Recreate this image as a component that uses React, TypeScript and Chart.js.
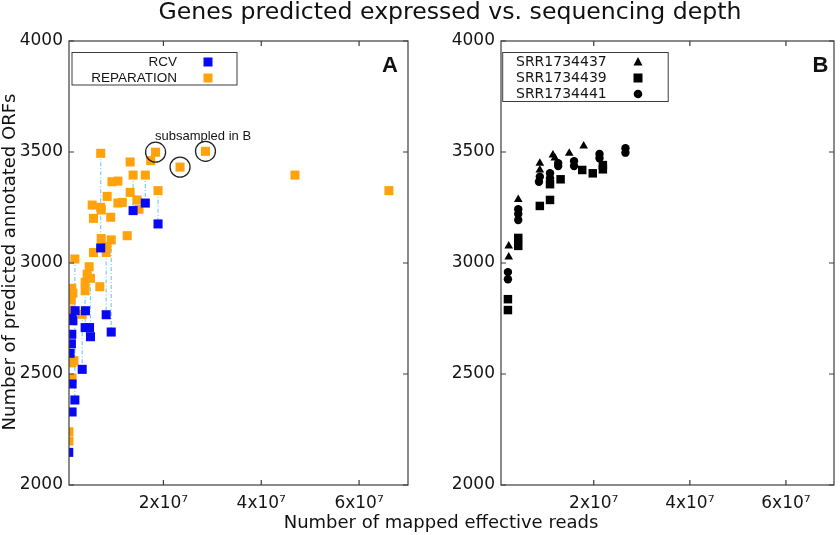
import React, { useEffect, useRef } from "react";
import { Chart, registerables } from "chart.js";

Chart.register(...registerables);

const M = 1e6;

// ---------- Panel A (x values in millions of reads) ----------
const repX = [7.18, 13.2, 17.4, 18.4, 23.4, 28.6, 13.8, 16.3, 9.48, 10.7, 13.2, 18.9, 8.5, 5.44, 7.18, 7.3, 10.7, 11.6, 14.6, 15.0, 5.7, 9.23, 12.6, 7.28, 9.33, 8.45, 8.3, 5.7, 1.9, 4.82, 4.41, 5.09, 4.0, 7.0, 4.0, 1.27, 1.5, 1.15, 0.92, 3.4, 1.7, 1.27, 1.33, 0.68, 0.68, 46.9, 66.1];
const repY = [3494, 3455, 3461, 3499, 3432, 3503, 3396, 3396, 3366, 3369, 3318, 3326, 3300, 3261, 3251, 3239, 3270, 3273, 3284, 3242, 3201, 3206, 3123, 3110, 3104, 3074, 3047, 3047, 3018, 2983, 2949, 2931, 2913, 2893, 2875, 2886, 2864, 2833, 2788, 2769, 2560, 2550, 2481, 2240, 2198, 3396, 3326];

const rcvX = [13.8, 16.3, 18.9, 7.18, 1.95, 4.06, 8.3, 1.33, 1.5, 4.0, 4.9, 9.33, 5.09, 1.27, 1.19, 0.92, 3.4, 1.33, 1.9, 1.33, 0.65];
const rcvY = [3236, 3270, 3176, 3068, 2785, 2785, 2767, 2751, 2740, 2709, 2709, 2689, 2668, 2679, 2636, 2593, 2521, 2455, 2383, 2329, 2147];

const linkX = [7.18, 13.8, 16.3, 18.9, 9.33, 8.3, 5.09, 4.0, 3.4, 1.9];
const linkTop = [3494, 3396, 3396, 3326, 3104, 3047, 2931, 2875, 2769, 3018];
const linkBottom = [3068, 3236, 3270, 3176, 2689, 2767, 2668, 2709, 2521, 2383];

const circledX = [18.4, 23.4, 28.6];
const circledY = [3499, 3432, 3503];
const noteX = 28.1;
const noteY = 3568;
const noteText = "subsampled in B";

// ---------- Panel B ----------
const s437X = [2.31, 2.31, 4.29, 8.78, 8.78, 11.5, 11.9, 14.9, 17.9];
const s437Y = [3077, 3027, 3286, 3449, 3419, 3486, 3473, 3494, 3527];
const s439X = [2.14, 2.14, 4.29, 4.29, 8.78, 10.9, 10.9, 13.1, 17.6, 19.8, 21.9, 21.9];
const s439Y = [2837, 2788, 3113, 3077, 3257, 3284, 3355, 3377, 3419, 3404, 3441, 3422];
const s441X = [2.14, 2.14, 4.29, 4.29, 4.29, 8.78, 8.6, 10.9, 10.9, 12.6, 12.6, 15.9, 15.9, 21.2, 21.2, 26.6, 26.6];
const s441Y = [2959, 2927, 3242, 3221, 3194, 3389, 3366, 3404, 3382, 3450, 3437, 3459, 3437, 3491, 3472, 3517, 3497];

// ---------- Axes ----------
const xMin = 0.7e6;
const xMax = 7e7;
const yMin = 2000;
const yMax = 4000;
const xTickValues = [2e7, 4e7, 6e7];
const xTickLabels = ["2x10\u2077", "4x10\u2077", "6x10\u2077"];
const yTickValues = [2000, 2500, 3000, 3500, 4000];
const yTickLabels = ["2000", "2500", "3000", "3500", "4000"];

const TITLE = "Genes predicted expressed vs. sequencing depth";
const X_TITLE = "Number of mapped effective reads";
const Y_TITLE = "Number of predicted annotated ORFs";
const legendA = ["RCV", "REPARATION"];
const legendB = ["SRR1734437", "SRR1734439", "SRR1734441"];

const BLUE = "#0808f4";
const ORANGE = "#ffa20c";
const LINK = "#7fcdec";
const INK = "#151515";
const FRAME = "#3c3c3c";
const SANS = "'DejaVu Sans', sans-serif";
const ARIAL = "'Liberation Sans', Arial, sans-serif";

const pts = (xs: number[], ys: number[]) => xs.map((x, i) => ({ x: x * M, y: ys[i] }));

function scales(yWidth: number) {
  return {
    x: {
      type: "linear",
      min: xMin,
      max: xMax,
      grid: { display: false, drawTicks: false },
      border: { display: false },
      afterBuildTicks: (s: any) => {
        s.ticks = xTickValues.map((v) => ({ value: v }));
      },
      afterFit: (s: any) => {
        s.height = 50;
      },
      ticks: {
        autoSkip: false,
        maxRotation: 0,
        padding: 8,
        color: INK,
        font: { family: SANS, size: 17 },
        callback: (v: number) => xTickLabels[xTickValues.indexOf(v)] ?? "",
      },
    },
    y: {
      type: "linear",
      min: yMin,
      max: yMax,
      grid: { display: false, drawTicks: false },
      border: { display: false },
      afterBuildTicks: (s: any) => {
        s.ticks = yTickValues.map((v) => ({ value: v }));
      },
      afterFit: (s: any) => {
        s.width = yWidth;
      },
      ticks: {
        autoSkip: false,
        padding: 6,
        color: INK,
        font: { family: SANS, size: 17 },
        callback: (v: number) => yTickLabels[yTickValues.indexOf(v)] ?? "",
      },
    },
  };
}

function drawFrame(chart: any) {
  const ctx = chart.ctx;
  const { left, right, top, bottom } = chart.chartArea;
  const xs = chart.scales.x;
  const ys = chart.scales.y;
  const T = 5;
  ctx.save();
  ctx.strokeStyle = FRAME;
  ctx.lineWidth = 1.2;
  ctx.strokeRect(left, top, right - left, bottom - top);
  ctx.beginPath();
  xTickValues.forEach((v) => {
    const p = xs.getPixelForValue(v);
    ctx.moveTo(p, bottom);
    ctx.lineTo(p, bottom - T);
    ctx.moveTo(p, top);
    ctx.lineTo(p, top + T);
  });
  yTickValues.forEach((v) => {
    const p = ys.getPixelForValue(v);
    ctx.moveTo(left, p);
    ctx.lineTo(left + T, p);
    ctx.moveTo(right, p);
    ctx.lineTo(right - T, p);
  });
  ctx.stroke();
  ctx.restore();
}

function marker(ctx: CanvasRenderingContext2D, kind: string, x: number, y: number, color: string) {
  ctx.fillStyle = color;
  ctx.beginPath();
  if (kind === "rect") {
    ctx.rect(x - 4.5, y - 4.5, 9, 9);
  } else if (kind === "triangle") {
    ctx.moveTo(x, y - 5);
    ctx.lineTo(x + 4.5, y + 3.5);
    ctx.lineTo(x - 4.5, y + 3.5);
    ctx.closePath();
  } else {
    ctx.arc(x, y, 4.3, 0, Math.PI * 2);
  }
  ctx.fill();
}

const decorA = {
  id: "decorA",
  afterDatasetsDraw(chart: any) {
    drawFrame(chart);
    const ctx = chart.ctx;
    const xs = chart.scales.x;
    const ys = chart.scales.y;
    ctx.save();
    // circled points
    ctx.strokeStyle = "#222";
    ctx.lineWidth = 1.3;
    circledX.forEach((x, i) => {
      ctx.beginPath();
      ctx.arc(xs.getPixelForValue(x * M), ys.getPixelForValue(circledY[i]), 10, 0, Math.PI * 2);
      ctx.stroke();
    });
    ctx.fillStyle = INK;
    ctx.font = `13px ${ARIAL}`;
    ctx.textAlign = "center";
    ctx.textBaseline = "middle";
    ctx.fillText(noteText, xs.getPixelForValue(noteX * M), ys.getPixelForValue(noteY));
    // legend
    ctx.strokeStyle = FRAME;
    ctx.lineWidth = 1;
    ctx.strokeRect(72, 52.5, 165, 32.5);
    ctx.font = `13.5px ${ARIAL}`;
    ctx.textAlign = "right";
    ctx.fillStyle = INK;
    ctx.fillText(legendA[0], 177, 62);
    ctx.fillText(legendA[1], 177, 78);
    marker(ctx, "rect", 208, 62, BLUE);
    marker(ctx, "rect", 208, 78, ORANGE);
    // panel letter
    ctx.fillStyle = "#111";
    ctx.font = `bold 22px ${ARIAL}`;
    ctx.textAlign = "center";
    ctx.fillText("A", 390, 66);
    // titles
    ctx.font = `23.6px ${SANS}`;
    ctx.fillText(TITLE, 450, 13);
    ctx.font = `18px ${SANS}`;
    ctx.fillText(X_TITLE, 441, 523);
    ctx.translate(10, 262);
    ctx.rotate(-Math.PI / 2);
    ctx.fillText(Y_TITLE, 0, 0);
    ctx.restore();
  },
};

const decorB = {
  id: "decorB",
  afterDatasetsDraw(chart: any) {
    drawFrame(chart);
    const ctx = chart.ctx;
    ctx.save();
    ctx.strokeStyle = FRAME;
    ctx.lineWidth = 1;
    ctx.strokeRect(82.7, 52.5, 165.5, 49);
    ctx.fillStyle = INK;
    ctx.font = `14px ${SANS}`;
    ctx.textAlign = "left";
    ctx.textBaseline = "middle";
    ctx.fillText(legendB[0], 96, 62);
    ctx.fillText(legendB[1], 96, 78);
    ctx.fillText(legendB[2], 96, 94);
    marker(ctx, "triangle", 218, 62, "#000");
    marker(ctx, "rect", 218, 78, "#000");
    marker(ctx, "circle", 218, 94, "#000");
    ctx.fillStyle = "#111";
    ctx.font = `bold 22px ${ARIAL}`;
    ctx.textAlign = "center";
    ctx.fillText("B", 400.5, 66);
    ctx.restore();
  },
};

export default function App() {
  const refA = useRef<HTMLCanvasElement>(null);
  const refB = useRef<HTMLCanvasElement>(null);

  useEffect(() => {
    const linkSets = linkX.map((x, i) => ({
      data: [
        { x: x * M, y: linkTop[i] },
        { x: x * M, y: linkBottom[i] },
      ],
      showLine: true,
      borderColor: LINK,
      borderWidth: 1.2,
      borderDash: [4, 2, 1, 2],
      pointRadius: 0,
      order: 5,
    }));
    const chartA = new Chart(refA.current!, {
      type: "scatter",
      data: {
        datasets: [
          {
            label: legendA[0],
            data: pts(rcvX, rcvY),
            pointStyle: "rect",
            pointRadius: 6.4,
            backgroundColor: BLUE,
            borderWidth: 0,
            order: 1,
          },
          {
            label: legendA[1],
            data: pts(repX, repY),
            pointStyle: "rect",
            pointRadius: 6.4,
            backgroundColor: ORANGE,
            borderWidth: 0,
            order: 2,
          },
          ...linkSets,
        ] as any,
      },
      options: {
        animation: false,
        responsive: false,
        layout: { padding: { left: 0, top: 41, right: 432, bottom: 0 } },
        plugins: { legend: { display: false }, tooltip: { enabled: false }, title: { display: false } },
        scales: scales(69) as any,
      },
      plugins: [decorA],
    });
    const chartB = new Chart(refB.current!, {
      type: "scatter",
      data: {
        datasets: [
          {
            label: legendB[0],
            data: pts(s437X, s437Y),
            pointStyle: "triangle",
            pointRadius: 5,
            backgroundColor: "#000",
            borderWidth: 0,
          },
          {
            label: legendB[1],
            data: pts(s439X, s439Y),
            pointStyle: "rect",
            pointRadius: 6,
            backgroundColor: "#000",
            borderWidth: 0,
          },
          {
            label: legendB[2],
            data: pts(s441X, s441Y),
            pointStyle: "circle",
            pointRadius: 4.2,
            backgroundColor: "#000",
            borderWidth: 0,
          },
        ],
      },
      options: {
        animation: false,
        responsive: false,
        layout: { padding: { left: 0, top: 41, right: 1, bottom: 0 } },
        plugins: { legend: { display: false }, tooltip: { enabled: false }, title: { display: false } },
        scales: scales(81) as any,
      },
      plugins: [decorB],
    });
    return () => {
      chartA.destroy();
      chartB.destroy();
    };
  }, []);

  return (
    <div style={{ position: "absolute", left: 0, top: 0, width: 840, height: 535, background: "#fff" }}>
      <canvas ref={refA} width={840} height={535} style={{ position: "absolute", left: 0, top: 0 }} />
      <canvas ref={refB} width={420} height={535} style={{ position: "absolute", left: 420, top: 0 }} />
    </div>
  );
}
